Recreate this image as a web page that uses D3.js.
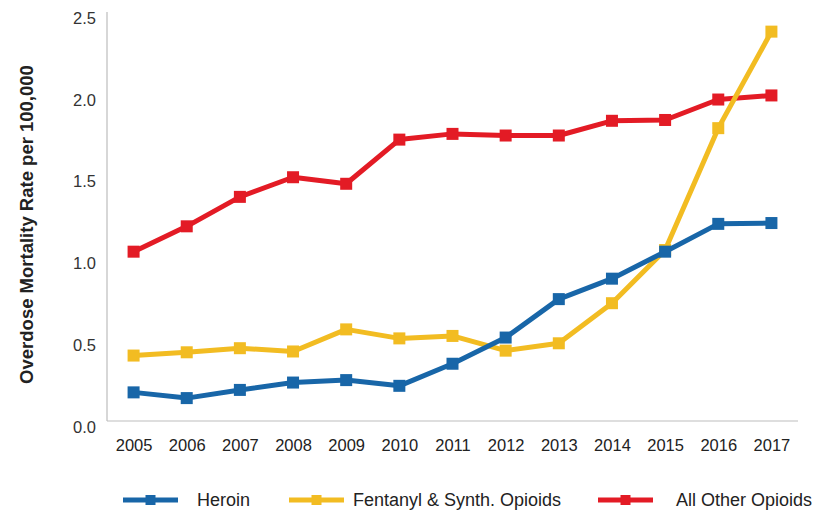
<!DOCTYPE html>
<html>
<head>
<meta charset="utf-8">
<script src="https://cdn.jsdelivr.net/npm/d3@7"></script>
<style>
  html, body { margin: 0; padding: 0; background: #fff; }
  svg { display: block; font-family: "Liberation Sans", Arial, sans-serif; }
</style>
</head>
<body>
<svg id="chart" width="829" height="512"></svg>
<script>
// Opioid overdose mortality rates per 100,000, by year
const years = [2005, 2006, 2007, 2008, 2009, 2010, 2011, 2012, 2013, 2014, 2015, 2016, 2017];
const heroin = [0.175, 0.14, 0.19, 0.235, 0.25, 0.215, 0.35, 0.51, 0.745, 0.87, 1.035, 1.205, 1.21];
const fentanyl = [0.40, 0.42, 0.445, 0.425, 0.56, 0.505, 0.52, 0.43, 0.475, 0.72, 1.045, 1.79, 2.38];
const otherOpioids = [1.035, 1.19, 1.37, 1.49, 1.45, 1.72, 1.755, 1.745, 1.745, 1.835, 1.84, 1.965, 1.99];
const yTicks = [0, 0.5, 1.0, 1.5, 2.0, 2.5];

const seriesNames = ["Heroin", "Fentanyl & Synth. Opioids", "All Other Opioids"];
const seriesColors = ["#1866a8", "#f2bc22", "#e31b25"];
const seriesValues = [heroin, fentanyl, otherOpioids];

const svg = d3.select("#chart");
const plot = { left: 107, right: 798, top: 12, bottom: 421 };

const x = d3.scalePoint()
  .domain(years)
  .range([plot.left, plot.right])
  .padding(0.5);

const y = d3.scaleLinear()
  .domain([0, 2.5])
  .range([plot.bottom, plot.top]);

// Axis lines (left and bottom)
svg.append("line")
  .attr("x1", plot.left).attr("x2", plot.left)
  .attr("y1", plot.top).attr("y2", plot.bottom)
  .attr("stroke", "#bdbdbd").attr("stroke-width", 1.2);
svg.append("line")
  .attr("x1", plot.left).attr("x2", plot.right)
  .attr("y1", plot.bottom).attr("y2", plot.bottom)
  .attr("stroke", "#bdbdbd").attr("stroke-width", 1.2);

// Y tick labels
const yAxis = svg.append("g")
  .attr("transform", `translate(${plot.left},0)`)
  .call(d3.axisLeft(y).tickValues(yTicks).tickFormat(d3.format(".1f")).tickSize(0).tickPadding(11));
yAxis.select(".domain").remove();
yAxis.selectAll("text")
  .attr("dy", "0.68em")
  .attr("font-size", 16.5)
  .attr("fill", "#333")
  .attr("font-family", "Liberation Sans, Arial, sans-serif");

// X tick labels
const xAxis = svg.append("g")
  .attr("transform", `translate(0,${plot.bottom})`)
  .call(d3.axisBottom(x).tickFormat(d3.format("d")).tickSize(0).tickPadding(18.5));
xAxis.select(".domain").remove();
xAxis.selectAll("text")
  .attr("font-size", 16.5)
  .attr("fill", "#222")
  .attr("font-family", "Liberation Sans, Arial, sans-serif");

// Y axis title
svg.append("text")
  .attr("transform", "translate(33,224.5) rotate(-90)")
  .attr("text-anchor", "middle")
  .attr("font-size", 18.5)
  .attr("font-weight", "bold")
  .attr("fill", "#222")
  .text("Overdose Mortality Rate per 100,000");

// Series lines and square markers (drawn back to front)
const line = d3.line()
  .x((d, i) => x(years[i]))
  .y(d => y(d));

const drawOrder = [2, 1, 0];
const markerSize = 12;
drawOrder.forEach(k => {
  const g = svg.append("g");
  g.append("path")
    .datum(seriesValues[k])
    .attr("d", line)
    .attr("fill", "none")
    .attr("stroke", seriesColors[k])
    .attr("stroke-width", 5)
    .attr("stroke-linejoin", "round");
  g.selectAll("rect")
    .data(seriesValues[k])
    .join("rect")
    .attr("x", (d, i) => x(years[i]) - markerSize / 2)
    .attr("y", d => y(d) - markerSize / 2)
    .attr("width", markerSize)
    .attr("height", markerSize)
    .attr("fill", seriesColors[k]);
});

// Legend
const legendY = 500;
const legendItems = [
  { lineX: 123, textX: 197 },
  { lineX: 289, textX: 353 },
  { lineX: 598, textX: 676 }
];
legendItems.forEach((item, k) => {
  const g = svg.append("g");
  g.append("line")
    .attr("x1", item.lineX).attr("x2", item.lineX + 55)
    .attr("y1", legendY).attr("y2", legendY)
    .attr("stroke", seriesColors[k]).attr("stroke-width", 5);
  g.append("rect")
    .attr("x", item.lineX + 27.5 - 5).attr("y", legendY - 5)
    .attr("width", 10).attr("height", 10)
    .attr("fill", seriesColors[k]);
  g.append("text")
    .attr("x", item.textX).attr("y", legendY)
    .attr("dy", "0.35em")
    .attr("font-size", 18)
    .attr("fill", "#222")
    .text(seriesNames[k]);
});
</script>
</body>
</html>
